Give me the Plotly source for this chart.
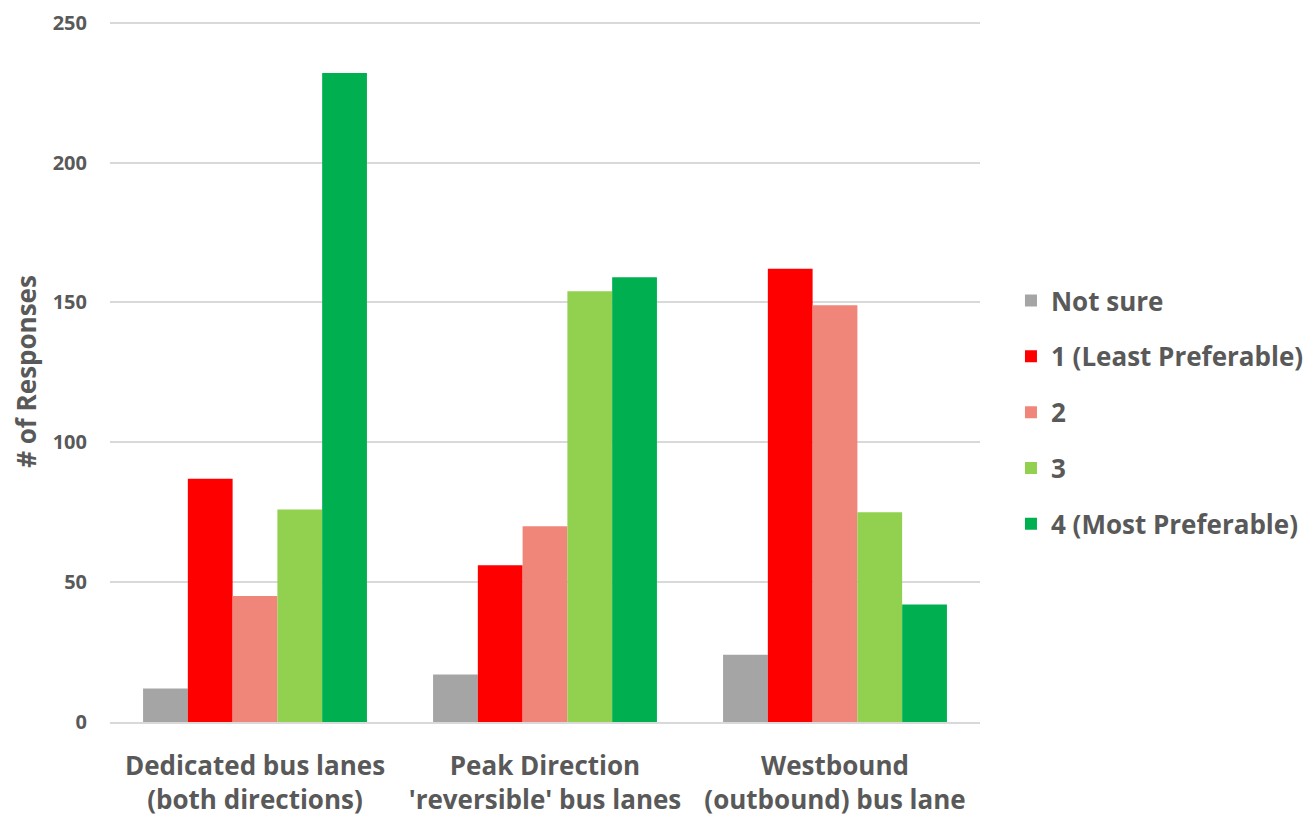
import plotly.graph_objects as go

categories = ["Dedicated bus lanes<br>(both directions)",
              "Peak Direction<br>'reversible' bus lanes",
              "Westbound<br>(outbound) bus lane"]
series_names = ["Not sure", "1 (Least Preferable)", "2", "3", "4 (Most Preferable)"]
not_sure = [12, 17, 24]
least_pref = [87, 56, 162]
two = [45, 70, 149]
three = [76, 154, 75]
most_pref = [232, 159, 42]
y_ticks = [0, 50, 100, 150, 200, 250]
colors = ["#A5A5A5", "#FF0000", "#F08679", "#92D050", "#00B050"]

values = [not_sure, least_pref, two, three, most_pref]
FONT = "Open Sans"
TXT = "#595959"

fig = go.Figure()
for i, (name, vals, col) in enumerate(zip(series_names, values, colors)):
    fig.add_trace(go.Bar(x=categories, y=vals, name=name, marker_color=col,
                         marker_line_width=0, legendgroup=str(i)))

fig.update_layout(
    width=1313, height=818,
    barmode="group", bargap=0.228, bargroupgap=0,
    plot_bgcolor="white", paper_bgcolor="white",
    margin=dict(l=102, r=341, t=13, b=104, autoexpand=False),
    font=dict(family=FONT, color=TXT, weight=700),
    showlegend=True,
    legend=dict(x=1.0356, y=0.442, xanchor="left", yanchor="middle",
                font=dict(family=FONT, size=26, color=TXT, weight=700),
                traceorder="grouped", tracegroupgap=19,
                itemwidth=30),
)
fig.update_yaxes(range=[0, 250.6], tickvals=y_ticks,
                 showgrid=True, gridcolor="#D9D9D9",
                 gridwidth=1.5, zeroline=False, showline=False, automargin=False,
                 tickfont=dict(family=FONT, size=20, color=TXT, weight=700),
                 ticklabelstandoff=22,
                 title=dict(text="# of Responses", standoff=12,
                            font=dict(family=FONT, size=26, color=TXT, weight=700)))
fig.update_xaxes(showline=True, linecolor="#D9D9D9", linewidth=2, automargin=False,
                 tickfont=dict(family=FONT, size=26, color=TXT, weight=700),
                 ticks="", ticklabelstandoff=20)

fig.write_html("out.html")
